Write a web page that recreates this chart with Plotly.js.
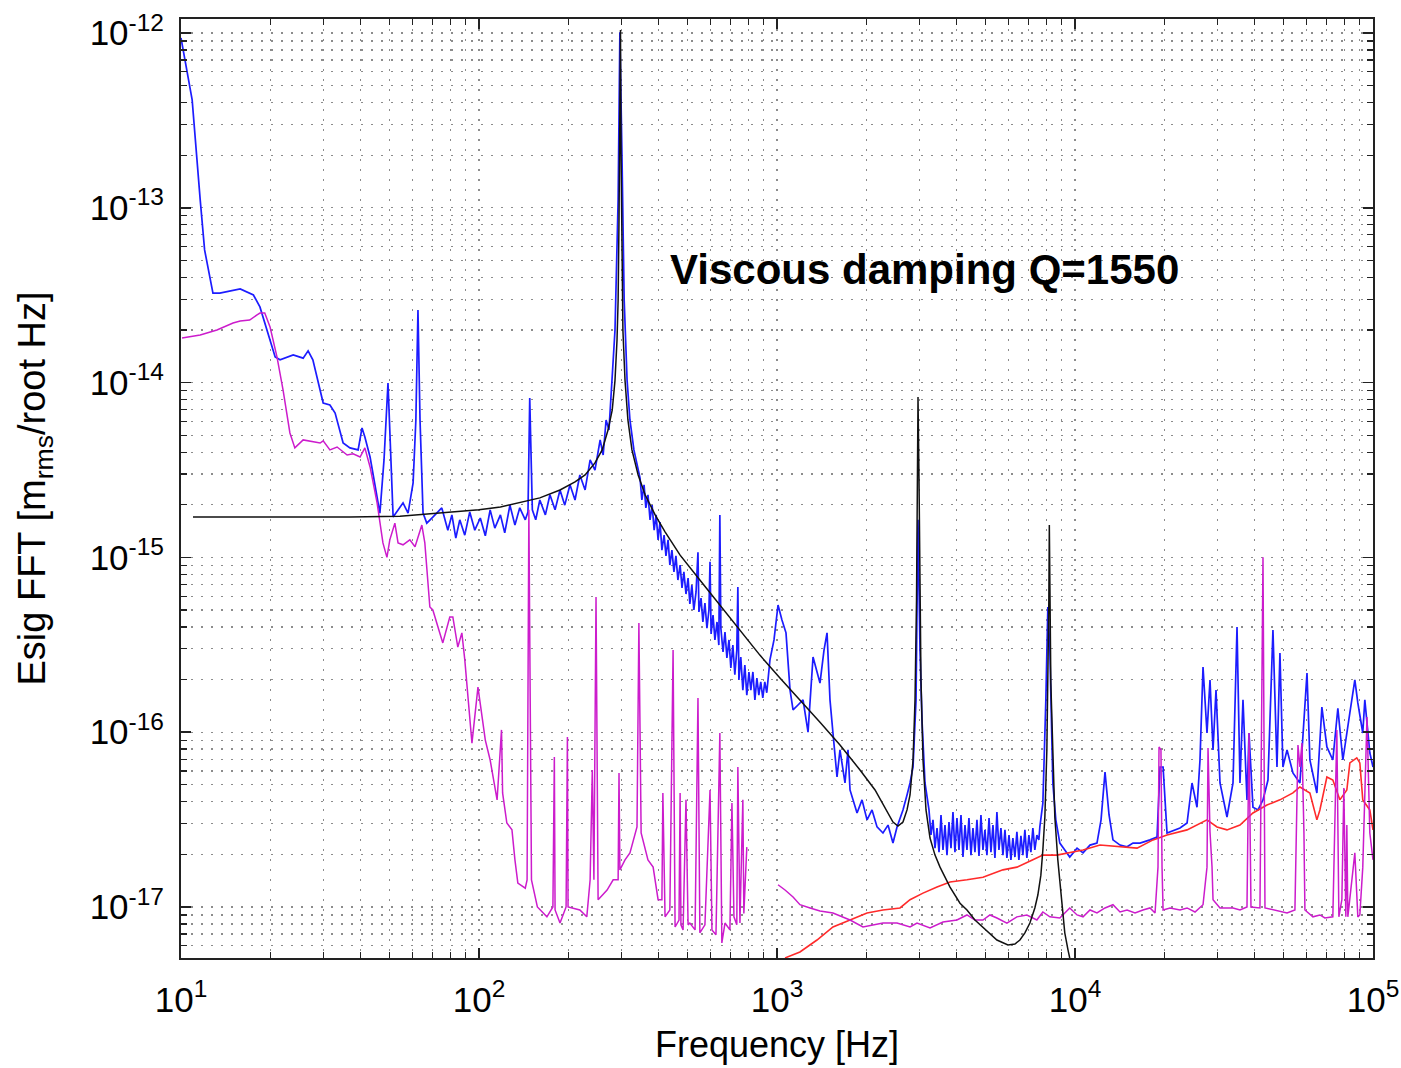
<!DOCTYPE html>
<html>
<head>
<meta charset="utf-8">
<script src="https://cdn.plot.ly/plotly-3.0.1.min.js"></script>
<style>html,body{margin:0;padding:0;background:#fff;}#chart{width:1401px;height:1068px;}</style>
</head>
<body>
<div id="chart"></div>
<script>
// ---- data (frequency in Hz, amplitude in m_rms/root Hz) ----
const blueF = [10,10.9,11.6,12.0,12.8,13.5,15.8,17.5,18.4,20.7,21.5,23.8,25.7,26.7,27.7,30.0,31.6,32.9,35.0,36.9,39.3,40.5,41.4,43.1,46.5,48.0,49.5,50.6,51.5,55.6,57.8,60.1,61.4,62.4,63.4,64.9,66.8,70.0,75.0,
78.6,81.1,83.6,86.2,89.6,93.1,96.8,101,105,109,113,118,122,127,132,137,143,146,148,151,155,160,167,173,180,187,194,202,210,218,227,236,245,255,261,267,273,280,286,293,297,302,307,314,321,331,342,
347,352,358,363,369,375,381,387,393,399,405,411,418,424,431,437,444,451,458,465,473,480,487,495,503,510,518,526,535,543,547,556,564,573,582,591,596,601,610,619,629,638,643,648,659,669,679,690,700,711,722,733,739,745,756,768,780,792,805,817,830,843,856,869,882,896,910,924,947,977,
1008,1039,1072,1106,1132,1176,1223,1271,1321,1394,1438,1472,1506,1541,1590,1627,1691,1731,1758,1856,1929,2005,2084,2166,2268,2358,2450,2528,2647,2731,2795,2861,2928,2973,3019,3066,3138,
3236,3287,3338,3390,3443,3497,3551,3606,3662,3719,3777,3836,3895,3955,4017,4080,4144,4208,4274,4340,4407,4476,4546,4616,4688,4762,4835,4911,4986,5064,5147,5223,5305,5387,5470,5556,5642,5730,5820,5909,6005,6095,6189,6286,6383,6482,6585,6685,6790,6895,7003,7111,7222,7332,7448,7563,7622,
7801,7983,8107,8233,8426,8623,8894,9241,9602,
10160,10640,11230,11850,12230,12610,13010,13410,14160,14950,15650,16530,17850,18850,19290,19750,20360,21660,22510,23770,24700,25670,26270,26890,27730,28380,29050,29730,30660,32360,33900,34970,35780,36620,37770,38360,39550,41120,42740,44420,46160,47620,48720,49860,51470,53870,56850,60050,61410,64820,67370,70030,73320,76220,79230,83620,86910,88940,92410,93880,97570,100000];
const blueA = [9.36e-13,4.14e-13,1.11e-13,5.74e-14,3.25e-14,3.25e-14,3.43e-14,3.17e-14,2.71e-14,1.40e-14,1.35e-14,1.44e-14,1.38e-14,1.52e-14,1.35e-14,7.64e-15,7.44e-15,6.70e-15,4.51e-15,4.23e-15,4.12e-15,5.50e-15,4.88e-15,3.75e-15,1.79e-15,3.61e-15,9.95e-15,3.61e-15,1.70e-15,2.05e-15,1.79e-15,2.67e-15,6.11e-15,2.60e-14,6.11e-15,1.79e-15,1.57e-15,1.70e-15,1.92e-15,
1.43e-15,1.75e-15,1.29e-15,1.64e-15,1.34e-15,1.82e-15,1.43e-15,1.68e-15,1.33e-15,1.87e-15,1.47e-15,1.75e-15,1.38e-15,1.99e-15,1.53e-15,1.92e-15,1.64e-15,1.82e-15,8.17e-15,1.87e-15,1.64e-15,2.13e-15,1.75e-15,2.28e-15,1.87e-15,2.43e-15,1.99e-15,2.60e-15,2.13e-15,2.96e-15,2.43e-15,3.61e-15,3.16e-15,4.70e-15,3.85e-15,6.11e-15,5.35e-15,1.03e-14,2.00e-14,1.11e-13,1.01e-12,1.88e-13,2.97e-14,1.03e-14,6.11e-15,4.12e-15,3.16e-15,
2.85e-15,2.13e-15,2.60e-15,1.92e-15,2.28e-15,1.64e-15,1.99e-15,1.43e-15,1.75e-15,1.26e-15,1.59e-15,1.10e-15,1.34e-15,1.02e-15,1.26e-15,9.04e-16,1.10e-15,8.26e-16,1.02e-15,7.42e-16,9.04e-16,6.68e-16,8.26e-16,6.17e-16,7.62e-16,5.41e-16,6.95e-16,5.00e-16,6.34e-16,1.07e-15,4.87e-16,5.85e-16,4.27e-16,5.48e-16,3.94e-16,5.00e-16,9.43e-16,3.65e-16,4.68e-16,3.37e-16,4.27e-16,3.15e-16,1.75e-15,3.94e-16,2.88e-16,3.74e-16,2.66e-16,3.37e-16,2.33e-16,3.15e-16,2.13e-16,2.95e-16,6.77e-16,1.99e-16,2.69e-16,1.74e-16,2.42e-16,1.63e-16,2.21e-16,1.74e-16,2.21e-16,1.53e-16,2.04e-16,1.63e-16,1.94e-16,1.57e-16,1.94e-16,1.68e-16,2.59e-16,3.37e-16,
5.34e-16,4.38e-16,3.70e-16,1.74e-16,1.34e-16,1.43e-16,1.53e-16,1.00e-16,2.69e-16,1.91e-16,2.95e-16,3.70e-16,1.53e-16,9.89e-17,5.54e-17,7.92e-17,5.12e-17,7.92e-17,4.67e-17,3.45e-17,4.10e-17,3.15e-17,3.59e-17,2.87e-17,2.65e-17,2.94e-17,2.32e-17,2.87e-17,3.59e-17,4.37e-17,5.12e-17,6.32e-17,1.53e-16,1.64e-15,2.95e-16,1.17e-16,5.12e-17,
3.59e-17,2.58e-17,3.15e-17,2.17e-17,2.83e-17,2.06e-17,3.36e-17,2.12e-17,2.94e-17,1.98e-17,3.06e-17,2.17e-17,3.49e-17,2.06e-17,3.23e-17,2.12e-17,3.36e-17,1.93e-17,2.94e-17,2.12e-17,3.23e-17,1.98e-17,2.83e-17,2.06e-17,3.15e-17,1.96e-17,3.36e-17,2.12e-17,2.76e-17,1.98e-17,3.23e-17,2.06e-17,2.94e-17,1.91e-17,3.49e-17,2.12e-17,2.83e-17,1.98e-17,2.76e-17,1.91e-17,2.58e-17,1.86e-17,2.48e-17,1.93e-17,2.69e-17,1.86e-17,2.55e-17,1.98e-17,2.76e-17,1.91e-17,2.58e-17,2.06e-17,2.83e-17,2.12e-17,2.58e-17,2.42e-17,2.87e-17,
3.93e-17,1.53e-16,5.20e-16,2.95e-16,5.12e-17,3.15e-17,2.32e-17,2.12e-17,1.93e-17,
2.17e-17,2.04e-17,2.26e-17,2.32e-17,3.15e-17,5.92e-17,3.36e-17,2.42e-17,2.26e-17,2.21e-17,2.32e-17,2.32e-17,2.42e-17,2.51e-17,6.32e-17,6.32e-17,2.65e-17,2.76e-17,2.83e-17,3.02e-17,5.12e-17,3.72e-17,6.93e-17,2.36e-16,9.89e-17,1.99e-16,7.92e-17,1.74e-16,5.12e-17,3.27e-17,5.12e-17,4.00e-16,5.12e-17,1.53e-16,4.10e-17,9.89e-17,3.72e-17,3.59e-17,4.10e-17,5.32e-17,3.84e-16,6.32e-17,2.84e-16,6.32e-17,7.92e-17,5.84e-17,5.12e-17,2.18e-16,6.93e-17,4.49e-17,1.39e-16,8.23e-17,6.93e-17,1.37e-16,6.93e-17,1.29e-16,1.99e-16,1.47e-16,9.89e-17,1.53e-16,7.62e-17,6.32e-17];

const magentaLowF = [10.08,11.6,13.2,14.95,15.8,17.0,18.0,18.4,19.1,19.9,21.0,22.0,23.2,24.1,25.7,27.7,29.3,30.0,31.6,33.4,36.1,37.8,39.9,41.4,43.1,45.5,47.6,49.1,50.2,52.2,53.5,55.6,58.6,61.0,62.4,64.3,65.8,68.4,70.0,75.6,79.8,81.7,84.9,87.6,89.6,94.7,99.2,105,109,115,119,120,124,129,132,135,143,145,147,150,157,169,177,179,180,187,196,198,199,218,230,236,240,243,247,251,269,282,293,295,297,309,321,334,339,344,350,369,384,399,411,414,421,437,448,455,469,473,476,484,495,503,510,531,543,551,573,596,605,624,643,653,669,695,706,717,733,739,751,768,774,792];
const magentaLowA = [1.80e-14,1.87e-14,2.00e-14,2.19e-14,2.25e-14,2.28e-14,2.44e-14,2.50e-14,2.50e-14,2.08e-14,1.40e-14,9.07e-15,5.15e-15,4.23e-15,4.70e-15,4.58e-15,4.51e-15,4.64e-15,4.12e-15,4.28e-15,3.85e-15,3.91e-15,3.75e-15,4.23e-15,3.29e-15,2.05e-15,1.21e-15,1.00e-15,1.26e-15,1.57e-15,1.21e-15,1.18e-15,1.26e-15,1.15e-15,1.31e-15,1.53e-15,1.21e-15,5.20e-16,5.00e-16,3.24e-16,4.56e-16,4.56e-16,3.07e-16,3.70e-16,2.59e-16,8.66e-17,1.81e-16,9.01e-17,6.93e-17,4.10e-17,1.03e-16,4.49e-17,3.02e-17,2.76e-17,1.86e-17,1.37e-17,1.28e-17,1.43e-17,1.87e-15,1.43e-17,1.00e-17,8.78e-18,1.00e-17,7.21e-17,9.61e-18,8.09e-18,1.00e-17,9.38e-17,1.00e-17,9.61e-18,8.78e-18,1.43e-17,6.08e-17,1.43e-17,5.93e-16,1.10e-17,1.25e-17,1.43e-17,1.43e-17,5.84e-17,1.63e-17,1.86e-17,2.04e-17,2.58e-17,2.87e-17,4.21e-16,2.65e-17,1.86e-17,1.69e-17,1.10e-17,1.10e-17,4.49e-17,8.78e-18,9.61e-18,2.95e-16,7.68e-18,8.42e-18,4.49e-17,7.90e-18,7.39e-18,4.10e-17,7.90e-18,8.09e-18,7.39e-18,1.57e-16,7.11e-18,7.90e-18,4.67e-17,7.39e-18,6.93e-18,9.89e-17,6.22e-18,8.09e-18,7.39e-18,3.93e-17,8.78e-18,7.90e-18,6.32e-17,8.09e-18,4.10e-17,9.19e-18,2.20e-17];

const magentaHighF = [1008,1064,1132,1194,1291,1394,1541,1758,1943,2133,2268,2528,2795,2950,3262,3606,4017,4340,4616,4911,5183,5470,5909,6383,6895,7448,7801,8233,8894,9602,10160,10640,11230,11850,12610,13410,14160,14950,15900,16910,17850,18560,18990,19140,19430,19590,19750,20840,22510,23770,25280,26890,27730,27950,28380,28830,29050,30660,33900,35780,37770,38360,38950,41750,42740,43400,46880,51470,54700,56000,56850,57750,58650,59090,62860,66340,68950,73320,75630,76820,78620,79830,81070,81700,82330,86910,88940,90330,92410,95470,97570,100000];
const magentaHighA = [1.34e-17,1.25e-17,1.14e-17,1.03e-17,9.87e-18,9.49e-18,9.24e-18,8.42e-18,7.68e-18,7.90e-18,8.09e-18,8.09e-18,7.68e-18,8.09e-18,7.58e-18,8.20e-18,8.42e-18,9.00e-18,8.42e-18,8.42e-18,9.00e-18,8.65e-18,8.09e-18,8.78e-18,9.00e-18,8.42e-18,9.36e-18,8.78e-18,8.65e-18,9.87e-18,9.00e-18,8.78e-18,9.61e-18,9.24e-18,9.87e-18,1.03e-17,9.36e-18,9.61e-18,9.24e-18,9.61e-18,9.87e-18,9.24e-18,1.69e-17,8.23e-17,7.92e-17,1.69e-17,9.61e-18,9.87e-18,9.61e-18,9.87e-18,9.36e-18,1.03e-17,1.69e-17,8.12e-17,2.69e-17,1.69e-17,1.10e-17,9.87e-18,9.87e-18,9.61e-18,1.00e-17,9.89e-17,1.00e-17,9.87e-18,1.00e-15,9.87e-18,9.61e-18,9.24e-18,9.61e-18,8.44e-17,6.32e-17,8.66e-17,2.65e-17,9.61e-18,8.78e-18,9.00e-18,8.65e-18,8.78e-18,1.03e-16,8.78e-18,1.10e-17,4.79e-17,8.78e-18,2.94e-17,8.78e-18,2.04e-17,8.78e-18,9.00e-18,1.69e-17,1.22e-16,2.65e-17,1.86e-17];

const redF = [1064,1194,1362,1541,1758,2005,2268,2587,2795,3090,3443,3807,4340,4911,5730,6383,7222,7801,8691,9602,10640,12130,14160,16150,18280,20360,23770,27730,29960,32360,35780,39550,44070,48720,53870,56850,61410,64820,66340,70030,73320,77410,81700,83620,88230,90330,92410,97570,100000];
const redA = [5.11e-18,5.53e-18,6.47e-18,7.68e-18,8.42e-18,9.24e-18,9.61e-18,9.87e-18,1.10e-17,1.20e-17,1.30e-17,1.39e-17,1.43e-17,1.48e-17,1.63e-17,1.69e-17,1.86e-17,1.98e-17,1.98e-17,2.04e-17,2.12e-17,2.26e-17,2.20e-17,2.17e-17,2.42e-17,2.58e-17,2.76e-17,3.15e-17,2.87e-17,2.76e-17,2.94e-17,3.45e-17,3.83e-17,4.10e-17,4.49e-17,4.86e-17,4.49e-17,3.15e-17,3.59e-17,5.54e-17,5.32e-17,4.10e-17,4.67e-17,6.67e-17,7.12e-17,6.67e-17,4.10e-17,3.59e-17,2.76e-17];

const modelF = [10.97,17.0,25.1,36.9,54.3,68.4,86.2,100,118,137,160,187,210,227,245,259,271,280,286,290.5,293,295,297,298.4,299.6,302,304,309,316,326,342,361,390,421,473,551,643,751,876,1023,1194,1394,1627,1899,2133,2304,2450,2547,2647,2731,2795,2861,2905,2939,2962,2973,2996,3019,3042,3090,3162,3262,3390,3524,3807,4112,4340,4616,4911,5183,5470,5955,6286,6533,6790,7057,7332,7505,7682,7801,7923,8046,8107,8170,8201,8233,8297,8362,8491,8557,8757,8894,9102,9241,9473,9602,9757];
const modelA = [1.70e-15,1.70e-15,1.70e-15,1.70e-15,1.72e-15,1.77e-15,1.82e-15,1.87e-15,1.94e-15,2.05e-15,2.19e-15,2.43e-15,2.70e-15,2.96e-15,3.47e-15,4.12e-15,5.35e-15,6.97e-15,1.03e-14,1.75e-14,2.97e-14,8.52e-14,4.14e-13,1.04e-12,2.14e-13,5.03e-14,2.00e-14,1.03e-14,6.11e-15,4.12e-15,2.96e-15,2.28e-15,1.75e-15,1.40e-15,1.03e-15,7.42e-16,5.34e-16,3.84e-16,2.76e-16,2.04e-16,1.53e-16,1.14e-16,8.44e-17,6.08e-17,4.67e-17,3.68e-17,3.06e-17,2.90e-17,3.06e-17,3.59e-17,4.37e-17,6.93e-17,1.53e-16,5.70e-16,2.13e-15,8.27e-15,2.77e-15,5.70e-16,1.99e-16,6.93e-17,3.59e-17,2.48e-17,1.98e-17,1.69e-17,1.30e-17,1.05e-17,9.61e-18,8.42e-18,7.68e-18,7.01e-18,6.47e-18,6.06e-18,6.14e-18,6.47e-18,7.11e-18,8.09e-18,9.87e-18,1.17e-17,1.52e-17,2.12e-17,3.27e-17,7.92e-17,1.91e-16,5.70e-16,1.53e-15,5.70e-16,1.91e-16,1.22e-16,5.32e-17,3.27e-17,1.86e-17,1.37e-17,9.61e-18,7.11e-18,5.69e-18,4.98e-18,4.48e-18];

const xTickVals = [1e1,1e2,1e3,1e4,1e5];
const xTickText = ['10<sup>1</sup>','10<sup>2</sup>','10<sup>3</sup>','10<sup>4</sup>','10<sup>5</sup>'];
const yTickVals = [1e-17,1e-16,1e-15,1e-14,1e-13,1e-12];
const yTickText = ['10<sup>-17</sup>','10<sup>-16</sup>','10<sup>-15</sup>','10<sup>-14</sup>','10<sup>-13</sup>','10<sup>-12</sup>'];
const annotationText = '<b>Viscous damping Q=1550</b>';

// minor (2..9) tick positions per decade
function minorVals(lo, hi){ const v=[]; for(let e=lo;e<hi;e++){ for(let m=2;m<=9;m++) v.push(m*Math.pow(10,e)); } return v; }

const FONT = 'Liberation Sans, Arial, Helvetica, sans-serif';
const gridCol = '#8c8c8c';
const dash = '2px,8px';

const traces = [
  {x: blueF, y: blueA, mode:'lines', line:{color:'#1c1cff', width:1.7}, hoverinfo:'skip'},
  {x: redF, y: redA, mode:'lines', line:{color:'#ff2a2a', width:1.6}, hoverinfo:'skip'},
  {x: magentaLowF, y: magentaLowA, mode:'lines', line:{color:'#cc1ccc', width:1.5}, hoverinfo:'skip'},
  {x: magentaHighF, y: magentaHighA, mode:'lines', line:{color:'#cc1ccc', width:1.5}, hoverinfo:'skip'},
  {x: modelF, y: modelA, mode:'lines', line:{color:'#111', width:1.5}, hoverinfo:'skip'}
];

const axisCommon = {
  type:'log', showline:true, linecolor:'#222', linewidth:2, mirror:'allticks',
  ticks:'inside', ticklen:10, tickwidth:1.5, tickcolor:'#222',
  showgrid:true, gridcolor:gridCol, gridwidth:1.2, griddash:dash,
  zeroline:false, tickmode:'array',
  tickfont:{family:FONT, size:35, color:'#000'}
};

const layout = {
  width:1401, height:1068,
  margin:{l:181, r:28, t:19, b:110, pad:0},
  paper_bgcolor:'#fff', plot_bgcolor:'#fff',
  showlegend:false,
  xaxis: Object.assign({}, axisCommon, {
    range:[1,5], tickvals:xTickVals, ticktext:xTickText,
    minor:{tickmode:'array', tickvals:minorVals(1,5), ticks:'inside', ticklen:6, tickwidth:1.2, tickcolor:'#222', showgrid:true, gridcolor:gridCol, gridwidth:1.2, griddash:dash},
    title:{text:'Frequency [Hz]', font:{family:FONT, size:36, color:'#000'}, standoff:14},
    ticklabelstandoff:10
  }),
  yaxis: Object.assign({}, axisCommon, {
    range:[-17.292,-11.92], tickvals:yTickVals, ticktext:yTickText,
    minor:{tickmode:'array', tickvals:minorVals(-18,-11), ticks:'inside', ticklen:6, tickwidth:1.2, tickcolor:'#222', showgrid:true, gridcolor:gridCol, gridwidth:1.2, griddash:dash},
    title:{text:'Esig FFT [m<sub>rms</sub>/root Hz]', font:{family:FONT, size:38, color:'#000'}, standoff:32},
    ticklabelstandoff:8
  }),
  annotations:[{
    xref:'paper', yref:'paper', x:0.4086, y:0.7327, xanchor:'left', yanchor:'middle',
    text:annotationText, showarrow:false, font:{family:FONT, size:42, color:'#000'}
  }]
};

Plotly.newPlot('chart', traces, layout, {staticPlot:true, displayModeBar:false});
</script>
</body>
</html>
